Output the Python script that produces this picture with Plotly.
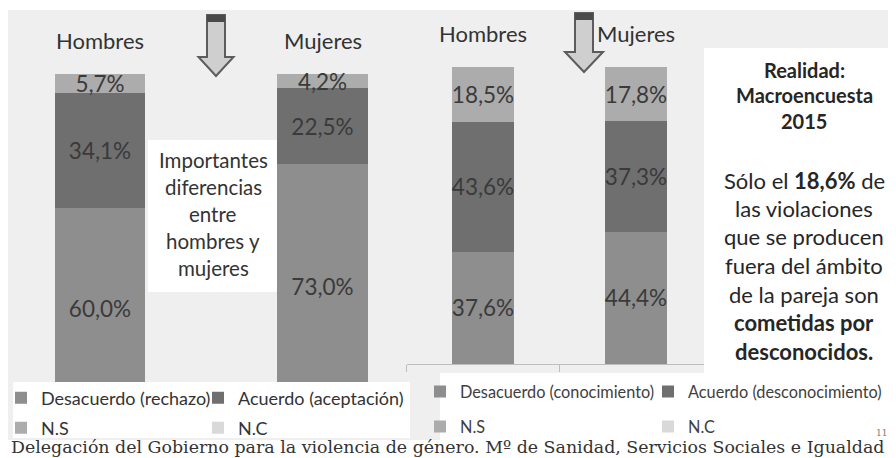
import plotly.graph_objects as go

# The page body adds an 8px margin, so the figure is drawn 8px in and down.
OFF = 8
W, H = 896 - OFF, 458 - OFF


def px(x):
    return (x - OFF) / W


def py(y):
    return 1 - (y - OFF) / H


FONT = "Lato"

# ---------------- data ----------------
categories = ["Hombres", "Mujeres"]

left_series_names = ["Desacuerdo (rechazo)", "Acuerdo (aceptación)", "N.S", "N.C"]
left_desacuerdo = [60.0, 73.0]
left_acuerdo = [34.1, 22.5]
left_ns = [5.7, 4.2]
left_nc = [0.0, 0.0]

right_series_names = ["Desacuerdo (conocimiento)", "Acuerdo (desconocimiento)", "N.S", "N.C"]
right_desacuerdo = [37.6, 44.4]
right_acuerdo = [43.6, 37.3]
right_ns = [18.5, 17.8]
right_nc = [0.0, 0.0]

series_colors = ["#8e8e8e", "#6f6f6f", "#acacac", "#d9d9d9"]

fig = go.Figure()

# one legend box per entry so each entry can sit where the reference shows it
left_legends = ["legend", "legend2", "legend3", "legend4"]
right_legends = ["legend5", "legend6", "legend7", "legend8"]

left_values = [left_desacuerdo, left_acuerdo, left_ns, left_nc]
for name, vals, color, leg in zip(left_series_names, left_values, series_colors, left_legends):
    fig.add_trace(go.Bar(
        x=categories, y=vals, name=name, xaxis="x", yaxis="y", legend=leg,
        marker=dict(color=color, line=dict(width=0)), width=0.405,
        texttemplate="" if name == "N.C" else "%{y:.1f}%",
        textposition="inside", insidetextanchor="middle", textangle=0,
        constraintext="none",
        textfont=dict(family=FONT, size=22.5, color="#3a3a3a"),
        hoverinfo="skip",
    ))

right_values = [right_desacuerdo, right_acuerdo, right_ns, right_nc]
for name, vals, color, leg in zip(right_series_names, right_values, series_colors, right_legends):
    fig.add_trace(go.Bar(
        x=categories, y=vals, name=name, xaxis="x2", yaxis="y2", legend=leg,
        marker=dict(color=color, line=dict(width=0)), width=0.405,
        texttemplate="" if name == "N.C" else "%{y:.1f}%",
        textposition="inside", insidetextanchor="middle", textangle=0,
        constraintext="none",
        textfont=dict(family=FONT, size=22.5, color="#3a3a3a"),
        hoverinfo="skip",
    ))

# ---------------- shapes (backgrounds, boxes, arrows) ----------------
shapes = []


def rect(x0, y0, x1, y1, color, layer="below"):
    return dict(type="rect", xref="paper", yref="paper",
                x0=px(x0), x1=px(x1), y0=py(y1), y1=py(y0),
                fillcolor=color, line=dict(width=0), layer=layer)


shapes.append(rect(8, 10, 893, 440, "#efefef"))
shapes.append(rect(13, 382, 410, 438, "#ffffff", "above"))      # left legend
shapes.append(rect(440, 373, 896, 440, "#ffffff", "above"))     # right legend
shapes.append(rect(148, 140, 278, 292, "#ffffff", "below"))     # left text box
shapes.append(rect(704, 48, 896, 373, "#ffffff", "above"))      # right text box


def arrow_path(cx, top, head_y, tip_y, shaft_half, head_half):
    pts = [(cx - shaft_half, top), (cx + shaft_half, top), (cx + shaft_half, head_y),
           (cx + head_half, head_y), (cx, tip_y), (cx - head_half, head_y),
           (cx - shaft_half, head_y)]
    return "M " + " L ".join(f"{px(x):.5f},{py(y):.5f}" for x, y in pts) + " Z"


for cx, top, head_y, tip_y, hh in [(216, 15, 57, 76, 17.5), (584, 13, 52, 72, 19)]:
    shapes.append(dict(type="path", xref="paper", yref="paper",
                       path=arrow_path(cx, top, head_y, tip_y, 9, hh),
                       fillcolor="#cfcfcf", line=dict(color="#5c5c5c", width=2),
                       layer="above"))
    shapes.append(rect(cx - 9, top, cx + 9, top + 7, "#4a4a4a", "above"))

# ---------------- annotations ----------------
ann = []


def text(x, y, s, size=20, color="#333333", family=FONT, xanchor="center"):
    ann.append(dict(x=px(x), y=py(y), xref="paper", yref="paper", text=s,
                    showarrow=False, xanchor=xanchor, yanchor="middle",
                    font=dict(family=family, size=size, color=color)))


# category headers, positioned on each chart's category axis
for cat in categories:
    ann.append(dict(x=cat, xref="x", y=py(40), yref="paper", text=cat, showarrow=False,
                    xanchor="center", yanchor="middle",
                    font=dict(family=FONT, size=22, color="#333333")))
    ann.append(dict(x=cat, xref="x2", y=py(33), yref="paper", text=cat, showarrow=False,
                    xanchor="center", yanchor="middle",
                    font=dict(family=FONT, size=22, color="#333333")))

left_box_lines = ["Importantes", "diferencias", "entre", "hombres y", "mujeres"]
for i, line in enumerate(left_box_lines):
    text(213, 160 + 27 * i, line, size=20.5, color="#333333")

right_box_head = ["<b>Realidad:</b>", "<b>Macroencuesta</b>", "<b>2015</b>"]
for i, line in enumerate(right_box_head):
    text(804, 70 + 25.5 * i, line, size=20, color="#262626")

right_box_body = ["Sólo el <b>18,6%</b> de", "las violaciones", "que se producen",
                  "fuera del ámbito", "de la pareja son", "<b>cometidas por</b>",
                  "<b>desconocidos.</b>"]
for i, line in enumerate(right_box_body):
    text(804, 180 + 28.5 * i, line, size=22, color="#262626")

text(447.5, 447, "Delegación del Gobierno para la violencia de género. Mº de Sanidad, "
     "Servicios Sociales e Igualdad", size=17.4, color="#333333", family="DejaVu Serif")
text(881, 433, "11", size=9, color="#777777", family="DejaVu Serif")

legend_common = dict(orientation="h", xanchor="left", yanchor="middle",
                     bgcolor="rgba(0,0,0,0)", borderwidth=0,
                     itemclick=False, itemdoubleclick=False)
left_font = dict(family=FONT, size=18, color="#333333")
right_font = dict(family=FONT, size=16.3, color="#404040")

# legend entry positions (screen px of the legend box's left edge, row centre)
left_pos = [(1, 398), (198, 398), (1, 428), (198, 428)]
right_pos = [(420, 392), (648, 392), (420, 427), (648, 427)]

legend_layout = {}
for key, (lx, ly) in zip(left_legends, left_pos):
    legend_layout[key] = dict(x=px(lx), y=py(ly), font=left_font, **legend_common)
for key, (lx, ly) in zip(right_legends, right_pos):
    legend_layout[key] = dict(x=px(lx), y=py(ly), font=right_font, **legend_common)

fig.update_layout(
    width=W, height=H,
    margin=dict(l=0, r=0, t=0, b=0, autoexpand=False),
    paper_bgcolor="#ffffff", plot_bgcolor="rgba(0,0,0,0)",
    barmode="stack", separators=", ",
    showlegend=True,
    xaxis=dict(domain=[px(33.25), px(389.25)], range=[-0.3, 1.3], type="category",
               showticklabels=False, showgrid=False, zeroline=False, showline=False,
               fixedrange=True),
    yaxis=dict(domain=[py(410), py(73)], range=[0, 100], visible=False, fixedrange=True),
    xaxis2=dict(domain=[px(406.5), px(712.5)], range=[-0.5, 1.5], type="category",
                anchor="y2", showticklabels=False, showgrid=False, zeroline=False,
                showline=True, linecolor="#bdbdbd", linewidth=1,
                ticks="outside", tickson="boundaries", ticklen=7, tickcolor="#bdbdbd",
                fixedrange=True),
    yaxis2=dict(domain=[py(364), py(66)], range=[0, 100], visible=False, anchor="x2",
                fixedrange=True),
    shapes=shapes,
    annotations=ann,
    **legend_layout,
)

fig.write_html("out.html")
